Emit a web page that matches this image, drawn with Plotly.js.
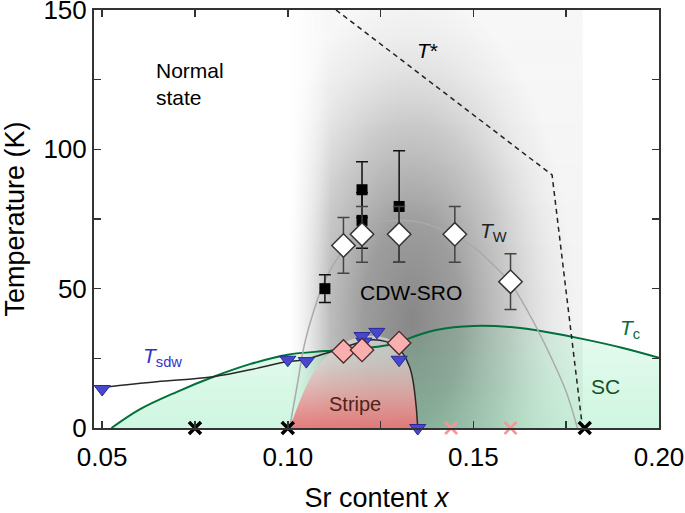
<!DOCTYPE html>
<html>
<head>
<meta charset="utf-8">
<script src="https://cdn.plot.ly/plotly-3.0.1.min.js"></script>
<style>html,body{margin:0;padding:0;background:#fff;}#chart{width:685px;height:513px;}</style>
</head>
<body>
<div id="chart"></div>
<script>
// ---- data ----
// tick labels
const xTickVals = [0.05, 0.075, 0.10, 0.125, 0.15, 0.175, 0.20];
const xTickText = ['0.05', '', '0.10', '', '0.15', '', '0.20'];
const yTickVals = [0, 25, 50, 75, 100, 125, 150];
const yTickText = ['0', '', '50', '', '100', '', '150'];

// Tc (superconducting transition) curve
const tcX = [0.0525, 0.06, 0.07, 0.08, 0.09, 0.10, 0.11, 0.12, 0.125, 0.13, 0.135, 0.14, 0.15, 0.16, 0.17, 0.18, 0.19, 0.20];
const tcT = [0, 6.6, 12.9, 18.4, 23, 26.3, 27.6, 28.6, 29.3, 30.8, 33.3, 35.2, 36.6, 36.2, 34.4, 31.8, 28.8, 25.2];

// Stripe dome boundary
const stripeX = [0.1005, 0.1023, 0.1041, 0.1068, 0.1104, 0.1149, 0.1202, 0.1247, 0.1292, 0.1328, 0.1346, 0.1353];
const stripeT = [0, 6.5, 12.4, 19.6, 25.6, 30.4, 32.8, 32.8, 30.4, 22, 10, 0];

// T_W guide curve
const twLineX = [0.1005, 0.1025, 0.1045, 0.107, 0.110, 0.115, 0.120, 0.125, 0.130, 0.135, 0.140, 0.145, 0.150, 0.155, 0.160, 0.165, 0.170, 0.175, 0.178];
const twLineT = [0, 15, 30, 42, 53, 64, 71, 74, 74.5, 74, 72, 69, 65, 59, 52, 41, 28, 13, 0];

// T* dashed line
const tStarX = [0.113, 0.1712, 0.1794];
const tStarT = [150, 90.8, 0];

// T_sdw guide curve
const sdwLineX = [0.05, 0.0647, 0.0799, 0.0916, 0.0996, 0.1041, 0.1131, 0.122, 0.1265, 0.1292, 0.131, 0.1328, 0.1337, 0.1346, 0.135];
const sdwLineT = [14.6, 16.6, 18.4, 21.4, 23.8, 24.4, 28, 31.6, 31, 29.2, 26.8, 22, 17.2, 7.6, 0];

// black squares with error bars
const sqX = [0.11, 0.12, 0.12, 0.13];
const sqT = [50, 85.5, 74.5, 79.5];
const sqErr = [5, 10, 10, 20];

// white diamonds (T_W) with error bars
const twX = [0.115, 0.12, 0.13, 0.145, 0.16];
const twT = [65.5, 69.5, 69.5, 69.5, 52.5];
const twErr = [10, 10, 10, 10, 10];

// blue triangles (T_sdw)
const sdwX = [0.05, 0.10, 0.105, 0.1205, 0.12, 0.124, 0.13, 0.135];
const sdwT = [14, 24.5, 24, 31, 33, 34.5, 24.5, 0];

// pink diamonds
const pdX = [0.115, 0.12, 0.13];
const pdT = [27.5, 28, 30.5];

// crosses on the axis
const blackCrossX = [0.075, 0.10, 0.18];
const blackCrossT = [0, 0, 0];
const pinkCrossX = [0.144, 0.16];
const pinkCrossT = [0, 0];

// ---- gray CDW-SRO shading (decorative gradient image) ----
const svg = '<svg xmlns="http://www.w3.org/2000/svg" width="790" height="1500" viewBox="0 0 790 1500" preserveAspectRatio="none">' +
 '<defs>' +
 '<linearGradient id="h" x1="0" x2="1" y1="0" y2="0">' +
 '<stop offset="0" stop-color="#fff" stop-opacity="0"/>' +
 '<stop offset="0.14" stop-color="#fff" stop-opacity="1"/>' +
 '<stop offset="1" stop-color="#fff" stop-opacity="1"/>' +
 '</linearGradient>' +
 '<linearGradient id="v" x1="0" x2="0" y1="0" y2="1">' +
 '<stop offset="0" stop-color="#646464" stop-opacity="0.05"/>' +
 '<stop offset="1" stop-color="#646464" stop-opacity="0.09"/>' +
 '</linearGradient>' +
 '<mask id="m"><rect width="790" height="1500" fill="url(#h)"/></mask>' +
 '<radialGradient id="r" cx="0.5" cy="0.5" r="0.5">' +
 '<stop offset="0" stop-color="#505050" stop-opacity="0.66"/>' +
 '<stop offset="0.3" stop-color="#5a5a5a" stop-opacity="0.56"/>' +
 '<stop offset="0.6" stop-color="#787878" stop-opacity="0.34"/>' +
 '<stop offset="0.85" stop-color="#a0a0a0" stop-opacity="0.12"/>' +
 '<stop offset="1" stop-color="#a0a0a0" stop-opacity="0"/>' +
 '</radialGradient>' +
 '</defs>' +
 '<g mask="url(#m)">' +
 '<rect width="790" height="1500" fill="url(#v)"/>' +
 '<ellipse cx="330" cy="1110" rx="440" ry="1180" fill="url(#r)"/>' +
 '</g></svg>';
const svgURI = 'data:image/svg+xml;base64,' + btoa(svg);

const FONT = 'Liberation Sans, Arial, Helvetica, sans-serif';

const traces = [
  { // SC fill under Tc
    x: tcX, y: tcT, mode: 'lines', line: {width: 0, shape: 'spline'}, fill: 'tozeroy',
    fillcolor: 'rgba(60,220,130,0.2)',
    fillgradient: {type: 'vertical', colorscale: [[0, 'rgba(60,220,130,0.25)'], [1, 'rgba(60,220,130,0.12)']]},
    hoverinfo: 'skip', showlegend: false
  },
  { // stripe dome
    x: stripeX, y: stripeT, mode: 'lines', line: {width: 0, shape: 'spline'}, fill: 'toself',
    fillcolor: 'rgba(230,160,160,0.85)',
    fillgradient: {type: 'vertical', start: 0, stop: 33,
      colorscale: [[0, 'rgba(228,118,118,0.95)'], [0.35, 'rgba(230,160,160,0.85)'], [0.7, 'rgba(225,205,205,0.7)'], [1, 'rgba(238,238,238,0.55)']]},
    hoverinfo: 'skip', showlegend: false
  },
  { // Tc line
    x: tcX, y: tcT, mode: 'lines', line: {color: 'rgb(0,112,58)', width: 2, shape: 'spline'}, showlegend: false
  },
  { // T_W guide
    x: twLineX, y: twLineT, mode: 'lines', line: {color: 'rgb(170,170,170)', width: 1.5, shape: 'spline'}, showlegend: false
  },
  { // T*
    x: tStarX, y: tStarT, mode: 'lines', line: {color: '#222', width: 1.5, dash: '5px,4px'}, showlegend: false
  },
  { // T_sdw guide
    x: sdwLineX, y: sdwLineT, mode: 'lines', line: {color: 'rgb(40,40,40)', width: 1.5, shape: 'spline'}, showlegend: false
  },
  { // black squares
    x: sqX, y: sqT, mode: 'markers', marker: {symbol: 'square', size: 11, color: '#000'},
    error_y: {type: 'data', array: sqErr, visible: true, color: '#111', thickness: 1.5, width: 6}, showlegend: false
  },
  { // white diamonds
    x: twX, y: twT, mode: 'markers', marker: {symbol: 'diamond', size: 18, color: '#fff', line: {color: '#333', width: 1.5}},
    error_y: {type: 'data', array: twErr, visible: true, color: '#444', thickness: 1.5, width: 6}, showlegend: false
  },
  { // blue triangles
    x: sdwX, y: sdwT, mode: 'markers', cliponaxis: false,
    marker: {symbol: 'triangle-down', size: 14, color: 'rgb(72,72,205)', line: {color: 'rgb(40,40,150)', width: 1}}, showlegend: false
  },
  { // pink diamonds
    x: pdX, y: pdT, mode: 'markers',
    marker: {symbol: 'diamond', size: 18, color: 'rgb(250,175,175)', line: {color: 'rgb(70,40,40)', width: 1.3}}, showlegend: false
  },
  { // black crosses
    x: blackCrossX, y: blackCrossT, mode: 'markers', cliponaxis: false,
    marker: {symbol: 'x-thin', size: 12, color: '#000', line: {color: '#000', width: 3.5}}, showlegend: false
  },
  { // pink crosses
    x: pinkCrossX, y: pinkCrossT, mode: 'markers', cliponaxis: false,
    marker: {symbol: 'x-thin', size: 12, color: 'rgb(245,150,150)', line: {color: 'rgb(245,150,150)', width: 2.5}}, showlegend: false
  }
];

const ann = (x, y, text, opts) => Object.assign({x: x, y: y, xref: 'x', yref: 'y', text: text, showarrow: false,
  font: {family: FONT, size: 21, color: '#000'}}, opts || {});

const layout = {
  width: 685, height: 513,
  margin: {l: 94, r: 26, t: 10, b: 85},
  paper_bgcolor: '#fff', plot_bgcolor: '#fff',
  font: {family: FONT, color: '#000'},
  showlegend: false,
  xaxis: {
    range: [0.0478, 0.2], tickvals: xTickVals, ticktext: xTickText,
    ticks: 'inside', ticklen: 7, tickwidth: 1.5, tickcolor: '#333',
    showline: true, linecolor: '#333', linewidth: 2, mirror: 'ticks',
    showgrid: false, zeroline: false, ticklabeloverflow: 'allow', ticklabelstandoff: 5,
    tickfont: {family: FONT, size: 26, color: '#000'},
    title: {text: 'Sr content <i>x</i>', font: {family: FONT, size: 27, color: '#000'}, standoff: 18}
  },
  yaxis: {
    range: [0, 150], tickvals: yTickVals, ticktext: yTickText,
    ticks: 'inside', ticklen: 7, tickwidth: 1.5, tickcolor: '#333',
    showline: true, linecolor: '#333', linewidth: 2, mirror: 'ticks',
    showgrid: false, zeroline: false, ticklabeloverflow: 'allow',
    tickfont: {family: FONT, size: 26, color: '#000'},
    title: {text: 'Temperature (K)', font: {family: FONT, size: 27, color: '#000'}, standoff: 14}
  },
  images: [{
    source: svgURI, xref: 'x', yref: 'y', x: 0.1005, y: 150, sizex: 0.079, sizey: 150,
    xanchor: 'left', yanchor: 'top', sizing: 'stretch', layer: 'below'
  }],
  annotations: [
    ann(0.064, 133, 'Normal<br>state', {xanchor: 'left', yanchor: 'top', align: 'left'}),
    ann(0.1331, 48.8, 'CDW-SRO'),
    ann(0.1181, 8.6, 'Stripe', {font: {family: FONT, size: 20, color: 'rgb(80,35,25)'}}),
    ann(0.1855, 15, 'SC', {font: {family: FONT, size: 21, color: 'rgb(20,80,40)'}}),
    ann(0.1344, 135.6, '<i>T</i>*', {xanchor: 'left'}),
    ann(0.1513, 70.5, '<i>T</i><sub>W</sub>', {xanchor: 'left', font: {family: FONT, size: 21, color: '#222'}}),
    ann(0.189, 35.5, '<i>T</i><sub>c</sub>', {xanchor: 'left', font: {family: FONT, size: 21, color: 'rgb(0,112,58)'}}),
    ann(0.0605, 25.5, '<i>T</i><sub>sdw</sub>', {xanchor: 'left', font: {family: FONT, size: 21, color: 'rgb(50,50,200)'}})
  ]
};

Plotly.newPlot('chart', traces, layout, {displayModeBar: false, staticPlot: true});
</script>
</body>
</html>
